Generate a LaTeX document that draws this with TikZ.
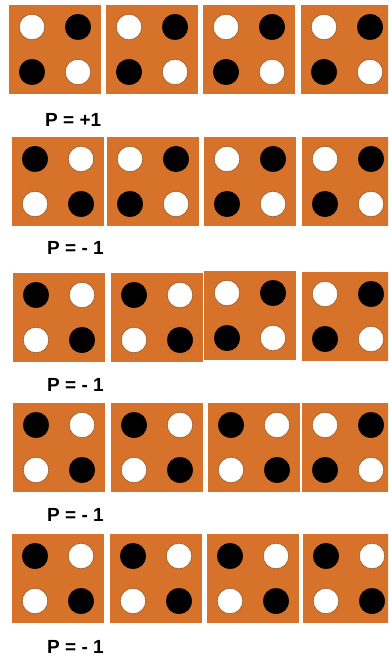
\documentclass[tikz,border=0pt]{standalone}
\usepackage{fontspec}
\setmainfont{Liberation Sans}
\usetikzlibrary{positioning}

\definecolor{plateorange}{RGB}{214,114,42}
\definecolor{rimbrown}{RGB}{160,95,45}

\begin{document}
\begin{tikzpicture}[x=1pt,y=-1pt,
                    plate/.style={fill=plateorange},
                    light/.style={fill=white, draw=rimbrown, line width=0.7pt},
                    dark/.style={fill=black},
                    parity/.style={anchor=west, inner sep=0pt, font=\fontsize{19}{21}\selectfont\bfseries}
                ]
                \useasboundingbox (0,0) rectangle (388,660);
                \clip (0,0) rectangle (388,660);
                % left/top of each plate, then the style of its top-left and top-right dot
                \foreach \x/\y/\p/\q in {
                        9/5/light/dark, 106/5/light/dark, 203/5/light/dark, 301/5/light/dark,
                        12/137/dark/light, 107/137/light/dark, 204/137/light/dark, 302/137/light/dark,
                        13/273/dark/light, 111/273/dark/light, 204/271/light/dark, 302/272/light/dark,
                        13/403/dark/light, 111/403/dark/light, 208/403/dark/light, 302/403/light/dark,
                        12/534/dark/light, 110/534/dark/light, 207/534/dark/light, 303/534/dark/light}
                {
                    \fill[plate] (\x,\y) rectangle ++(92,89);
                    \filldraw[\p] (\x+23,\y+22) circle (12.8);
                    \filldraw[\q] (\x+69,\y+22) circle (12.8);
                    \filldraw[\q] (\x+23,\y+67) circle (12.8);
                    \filldraw[\p] (\x+69,\y+67) circle (12.8);
                }
                % parity of each row
                \node[parity] (p1) at (45,120) {P = +1};
                \node[parity] (p2) at (47,248) {P = - 1};
                \node[parity] (p3) at (47,385) {P = - 1};
                \node[parity] (p4) at (47,515) {P = - 1};
                \node[parity] (p5) at (47,647) {P = - 1};
            \end{tikzpicture}
\end{document}
